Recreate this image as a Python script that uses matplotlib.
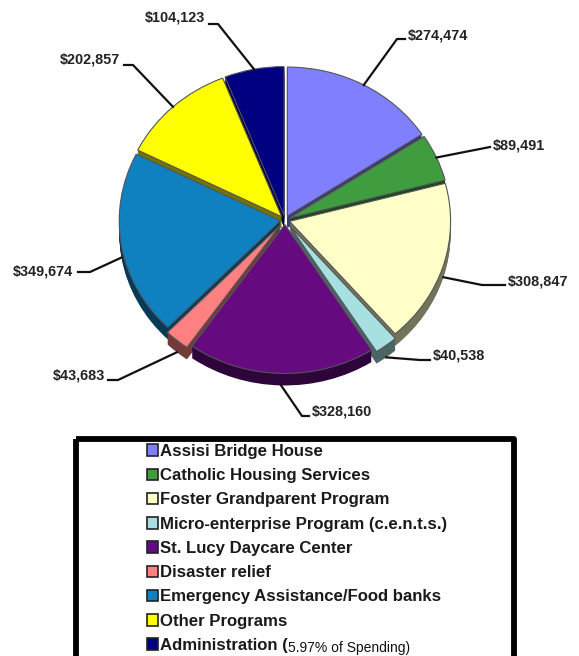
import math
import matplotlib
matplotlib.use("Agg")
import matplotlib.pyplot as plt
from matplotlib.patches import Rectangle
from matplotlib.colors import to_rgb

plt.rcParams['font.family'] = ['Liberation Sans', 'DejaVu Sans']

# chart data
programs = ["Assisi Bridge House", "Catholic Housing Services", "Foster Grandparent Program",
            "Micro-enterprise Program (c.e.n.t.s.)", "St. Lucy Daycare Center", "Disaster relief",
            "Emergency Assistance/Food banks", "Other Programs", "Administration ("]
spending = [274474, 89491, 308847, 40538, 328160, 43683, 349674, 202857, 104123]
colors = ["#8080ff", "#3f9c3f", "#ffffc8", "#a6e0e0", "#660a80", "#ff8080", "#0f80c0", "#ffff00", "#000080"]
legend_note = "5.97% of Spending)"

# layout in pixels
W, H = 579, 656
cx, cy = 285, 220
rx, ry = 161, 149
depth = 12
explode = [0.03, 0.03, 0.03, 0.05, 0.03, 0.05, 0.03, 0.03, 0.03]
# label x, label y, alignment, elbow x, elbow y, end x
label_pos = [
    (408, 35, "left", 397, 39, 405),
    (493, 145, "left", 490, 147, 490),
    (508, 281, "left", 482, 285, 505),
    (433, 356, "left", 420, 360, 430),
    (312, 412, "left", 302, 416, 309),
    (105, 375, "right", 118, 380, 108),
    (73, 271, "right", 90, 272, 78),
    (120, 60, "right", 133, 65, 124),
    (205, 18, "right", 218, 24, 209),
]

fig = plt.figure(figsize=(W / 100, H / 100), dpi=100)
ax = fig.add_axes([0, 0, 1, 1])


def shade(c, f=0.45):
    return tuple(v * f for v in to_rgb(c))


# side of the pie: dark copies stepped downwards
for d in range(depth, 0, -1):
    ax.pie(spending, colors=[shade(c) for c in colors], startangle=90, counterclock=False,
           explode=explode, center=(0, -d / ry), radius=1, frame=True,
           wedgeprops={"linewidth": 0})

wedges, _ = ax.pie(spending, colors=colors, startangle=90, counterclock=False,
                   explode=explode, center=(0, 0), radius=1, frame=True,
                   wedgeprops={"linewidth": 0.8, "edgecolor": "#55555a"})

ax.set_aspect("auto")
ax.set_xlim(-cx / rx, (W - cx) / rx)
ax.set_ylim(-(H - cy) / ry, cy / ry)
ax.axis("off")

# overlay in pixel coordinates for labels, leaders and legend box
ov = fig.add_axes([0, 0, 1, 1], facecolor="none")
ov.set_xlim(0, W)
ov.set_ylim(H, 0)
ov.axis("off")

for w, val, ex, (tx, ty, ha, ex_x, ex_y, end_x) in zip(wedges, spending, explode, label_pos):
    mid = math.radians((w.theta1 + w.theta2) / 2)
    r = 1 + ex
    px = cx + rx * r * math.cos(mid)
    py = cy - ry * r * math.sin(mid)
    if math.sin(mid) < -0.1:
        py += depth
    ov.plot([px, ex_x, end_x], [py, ex_y, ex_y], color="#111111", lw=1.6, solid_joinstyle="round")
    ov.text(tx, ty, "${:,}".format(val), ha=ha, va="center", fontsize=10.4,
            fontweight="bold", color="#222222")

# legend box, cut off by the bottom of the picture
ov.add_patch(Rectangle((76, 439), 438, 218.5, fill=False, edgecolor="black", linewidth=4.2,
                       joinstyle="round"))

handles = [Rectangle((0, 0), 1, 1, facecolor=c, edgecolor="#222222", linewidth=1.2) for c in colors]
leg = ov.legend(handles, programs, loc="upper left", bbox_to_anchor=(147 / W, 1 - 444 / H),
                bbox_transform=fig.transFigure, frameon=False, prop={"size": 12.1, "weight": "bold"},
                labelspacing=0.55, handlelength=0.68, handleheight=0.68, handletextpad=0.12,
                borderpad=0, borderaxespad=0, labelcolor="#1a1a1a")

ov.text(288, 648, legend_note, ha="left", va="center", fontsize=10,
        color="#111111")

fig.savefig("out.png", dpi=100)
